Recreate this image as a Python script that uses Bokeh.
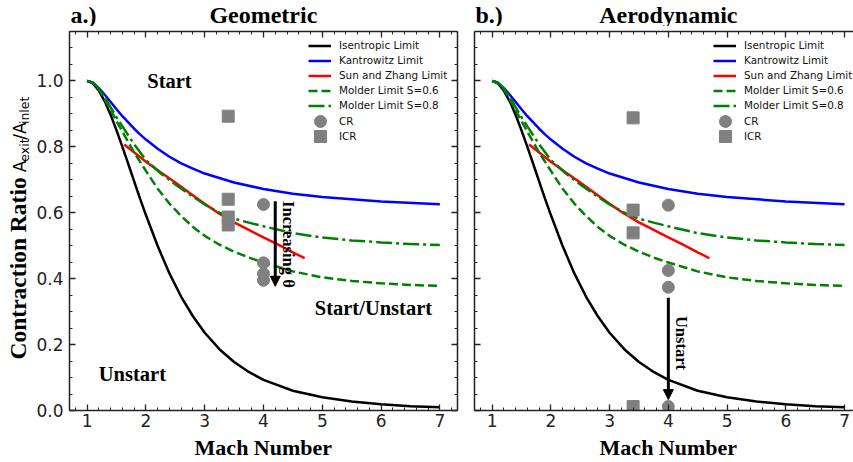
import math
from bokeh.plotting import figure
from bokeh.models import (Range1d, LinearAxis, SingleIntervalTicker, Label, Arrow,
                          NormalHead, Legend, LegendItem, PrintfTickFormatter,
                          CustomJSTickFormatter)
from bokeh.layouts import row, column
from bokeh.embed import file_html
from bokeh.resources import INLINE

# ---------------- data ----------------
isen_m = [1.0, 1.05, 1.1, 1.2, 1.3, 1.4, 1.5, 1.6, 1.7, 1.8, 1.9, 2.0, 2.2, 2.4, 2.6, 2.8,
          3.0, 3.25, 3.5, 3.75, 4.0, 4.5, 5.0, 5.5, 6.0, 6.5, 7.0]
isen_y = [1.000, 0.998, 0.992, 0.970, 0.938, 0.897, 0.850, 0.800, 0.748, 0.695, 0.643, 0.593,
          0.499, 0.416, 0.345, 0.286, 0.236, 0.186, 0.147, 0.117, 0.093, 0.060, 0.040, 0.027,
          0.019, 0.013, 0.010]

kant_m = [1.0, 1.1, 1.2, 1.3, 1.4, 1.5, 1.6, 1.7, 1.8, 1.9, 2.0, 2.2, 2.4, 2.6, 2.8, 3.0,
          3.5, 4.0, 4.5, 5.0, 6.0, 7.0]
kant_y = [1.000, 0.993, 0.978, 0.958, 0.936, 0.914, 0.893, 0.874, 0.855, 0.838, 0.822, 0.794,
          0.770, 0.750, 0.734, 0.719, 0.692, 0.672, 0.658, 0.648, 0.634, 0.626]

sun_m = [1.63, 2.0, 2.25, 2.5, 2.75, 3.0, 3.25, 3.5, 3.75, 4.0, 4.25, 4.5, 4.7]
sun_y = [0.807, 0.755, 0.723, 0.692, 0.659, 0.627, 0.597, 0.571, 0.548, 0.525, 0.503, 0.480, 0.462]

mold6_m = [1.0, 1.1, 1.2, 1.3, 1.4, 1.5, 1.6, 1.8, 2.0, 2.2, 2.4, 2.6, 2.8, 3.0, 3.25, 3.5,
           3.75, 4.0, 4.5, 5.0, 5.5, 6.0, 6.5, 7.0]
mold6_y = [1.000, 0.995, 0.975, 0.945, 0.912, 0.878, 0.846, 0.783, 0.727, 0.673, 0.628, 0.590,
           0.557, 0.530, 0.503, 0.482, 0.464, 0.449, 0.422, 0.404, 0.393, 0.386, 0.381, 0.378]

mold8_m = [1.0, 1.1, 1.2, 1.3, 1.4, 1.5, 1.6, 1.8, 2.0, 2.25, 2.5, 2.75, 3.0, 3.25, 3.5, 3.75,
           4.0, 4.5, 5.0, 5.5, 6.0, 6.5, 7.0]
mold8_y = [1.000, 0.995, 0.978, 0.950, 0.920, 0.890, 0.862, 0.808, 0.760, 0.720, 0.686, 0.655,
           0.625, 0.600, 0.582, 0.570, 0.559, 0.538, 0.525, 0.516, 0.510, 0.505, 0.502]

geo_cr_m = [4.0, 4.0, 4.0, 4.0]
geo_cr_y = [0.625, 0.448, 0.415, 0.395]
geo_icr_m = [3.4, 3.4, 3.4, 3.4]
geo_icr_y = [0.893, 0.641, 0.587, 0.563]

aero_cr_m = [4.0, 4.0, 4.0, 4.0]
aero_cr_y = [0.623, 0.425, 0.374, 0.012]
aero_icr_m = [3.4, 3.4, 3.4, 3.4]
aero_icr_y = [0.888, 0.608, 0.539, 0.012]

line_labels = ["Isentropic Limit", "Kantrowitz Limit", "Sun and Zhang Limit",
               "Molder Limit S=0.6", "Molder Limit S=0.8"]
marker_labels = ["CR", "ICR"]

# ---------------- layout constants (page pixels) ----------------
SERIF = "Liberation Serif"
SANS = "DejaVu Sans"
PAGE_W, PAGE_H = 853, 462
TOP_H = 26          # title strip
BOT_H = 28          # x-title strip
MID_H = PAGE_H - TOP_H - BOT_H
FRAME_TOP, FRAME_BOT = 31, 410
YSTRIP_W = 32
X0 = 0.7
Y0, Y1 = 0.0, 1.15
SX = 58.74


def blank_fig(w, h, x0, x1, y0, y1):
    f = figure(width=w, height=h, x_range=Range1d(x0, x1), y_range=Range1d(y0, y1),
               output_backend="svg", toolbar_location=None, x_axis_type=None,
               y_axis_type=None, min_border=0)
    f.min_border_left = f.min_border_right = f.min_border_top = f.min_border_bottom = 0
    f.outline_line_color = None
    return f


def style_axis(ax, labels):
    ax.axis_line_color = "#222222"
    ax.axis_line_width = 1.5
    ax.major_tick_line_color = "#222222"
    ax.major_tick_line_width = 1.3
    ax.minor_tick_line_color = "#222222"
    ax.minor_tick_line_width = 1
    ax.major_tick_in = 6
    ax.major_tick_out = 0
    ax.minor_tick_in = 3
    ax.minor_tick_out = 0
    if labels:
        ax.major_label_text_font = SANS
        ax.major_label_text_font_size = "17px"
        ax.major_label_text_color = "#222222"
    else:
        ax.formatter = CustomJSTickFormatter(code="return ''")
        ax.major_label_standoff = 0


def make_panel(width, left, right, x_end, cr_m, cr_y, icr_m, icr_y, right_axis, ylabels):
    p = figure(width=width, height=MID_H, x_range=Range1d(X0, x_end),
               y_range=Range1d(Y0, Y1), output_backend="svg", toolbar_location=None,
               x_axis_type=None, y_axis_type=None,
               min_border_left=left, min_border_right=right,
               min_border_top=FRAME_TOP - TOP_H,
               min_border_bottom=(PAGE_H - BOT_H) - FRAME_BOT)
    p.outline_line_color = None

    xb = LinearAxis(ticker=SingleIntervalTicker(interval=1, num_minor_ticks=5))
    style_axis(xb, True)
    xb.major_label_standoff = 3
    p.add_layout(xb, "below")
    xt = LinearAxis(ticker=SingleIntervalTicker(interval=1, num_minor_ticks=5))
    style_axis(xt, False)
    p.add_layout(xt, "above")
    yl = LinearAxis(ticker=SingleIntervalTicker(interval=0.2, num_minor_ticks=4))
    style_axis(yl, ylabels)
    if ylabels:
        yl.formatter = PrintfTickFormatter(format="%.1f")
        yl.major_label_standoff = 6
    p.add_layout(yl, "left")
    if right_axis:
        yr = LinearAxis(ticker=SingleIntervalTicker(interval=0.2, num_minor_ticks=4))
        style_axis(yr, False)
        p.add_layout(yr, "right")

    lw = 2.5
    r1 = p.line(isen_m, isen_y, line_color="black", line_width=lw)
    r2 = p.line(kant_m, kant_y, line_color="#0000ff", line_width=lw)
    r3 = p.line(sun_m, sun_y, line_color="#ff0000", line_width=lw)
    r4 = p.line(mold6_m, mold6_y, line_color="#008000", line_width=lw, line_dash="9 4")
    r5 = p.line(mold8_m, mold8_y, line_color="#008000", line_width=lw, line_dash="16 4 3 4")
    r6 = p.scatter(cr_m, cr_y, marker="circle", size=12, fill_color="#808080",
                   line_color="#808080")
    r7 = p.scatter(icr_m, icr_y, marker="square", size=12, fill_color="#808080",
                   line_color="#808080")

    fh = FRAME_BOT - FRAME_TOP
    common = dict(padding=0, margin=0, label_text_font=SANS, label_text_font_size="10.4px",
                  label_text_color="#111111", border_line_color=None,
                  background_fill_alpha=0, spacing=0)
    # line entries: first row centred at page y = 45, 15 px pitch
    leg_lines = Legend(items=[LegendItem(label=l, renderers=[r])
                              for l, r in zip(line_labels, [r1, r2, r3, r4, r5])],
                       location=(239, fh - (45 - FRAME_TOP - 7.5) - 75),
                       glyph_width=23, glyph_height=15, label_height=15, label_standoff=8,
                       **common)
    p.add_layout(leg_lines)
    # marker entries (own legends so that the marker keys get a usable size)
    for lab, r, cy in zip(marker_labels, [r6, r7], [121.3, 136.0]):
        lg = Legend(items=[LegendItem(label=lab, renderers=[r])],
                    location=(236, fh - (cy - FRAME_TOP + 15)),
                    glyph_width=30, glyph_height=30, label_height=30, label_standoff=4,
                    **common)
        p.add_layout(lg)
    return p


def add_text(f, x, y, text, font, size, bold=False, align="center", angle=0.0,
             baseline="middle"):
    f.add_layout(Label(x=x, y=y, text=text, text_font=font, text_font_size=size,
                       text_font_style="bold" if bold else "normal", text_align=align,
                       text_baseline=baseline, angle=angle, text_color="black"))


FA_LEFT, FA_RIGHT = 69, 457
FB_LEFT = 474
WA = FA_RIGHT + 9 - YSTRIP_W
WB = PAGE_W - YSTRIP_W - WA
pa = make_panel(WA, FA_LEFT - YSTRIP_W, 9, 7.3, geo_cr_m, geo_cr_y,
                geo_icr_m, geo_icr_y, True, True)
pb = make_panel(WB, FB_LEFT - (YSTRIP_W + WA), 0, X0 + (PAGE_W - FB_LEFT) / SX,
                aero_cr_m, aero_cr_y, aero_icr_m, aero_icr_y, False, False)

# ---- title strip (coordinates = page pixels) ----
top = blank_fig(PAGE_W, TOP_H, 0, PAGE_W, TOP_H, 0)
add_text(top, 70, 14, "a.)", SERIF, "24px", True, "left")
add_text(top, FA_LEFT + (4.0 - X0) * SX, 14, "Geometric", SERIF, "24px", True)
add_text(top, 475, 14, "b.)", SERIF, "24px", True, "left")
add_text(top, FB_LEFT + (4.0 - X0) * SX, 14, "Aerodynamic", SERIF, "24px", True)

# ---- x-title strip ----
bot = blank_fig(PAGE_W, BOT_H, 0, PAGE_W, PAGE_H, PAGE_H - BOT_H)
add_text(bot, FA_LEFT + (4.0 - X0) * SX, 447, "Mach Number", SERIF, "22px", True)
add_text(bot, FB_LEFT + (4.0 - X0) * SX, 447, "Mach Number", SERIF, "22px", True)

# ---- y-title strip (mixed fonts, rotated; pieces centred on their spans) ----
ys = blank_fig(YSTRIP_W, MID_H, 0, YSTRIP_W, PAGE_H - BOT_H, TOP_H)
up = math.pi / 2
add_text(ys, 17.5, 281.0, "Contraction Ratio", SERIF, "23.5px", True, "center", up)
add_text(ys, 19.0, 171.2, "A", SANS, "17px", False, "center", up)
add_text(ys, 23.7, 153.6, "exit", SANS, "12.5px", False, "center", up)
add_text(ys, 19.0, 133.2, "/A", SANS, "17px", False, "center", up)
add_text(ys, 23.7, 110.9, "inlet", SANS, "12.5px", False, "center", up)

# ---- in-plot annotations ----
add_text(pa, 2.40, 1.0, "Start", SERIF, "20.5px", True)
add_text(pa, 5.87, 0.311, "Start/Unstart", SERIF, "20.5px", True)
add_text(pa, 1.77, 0.112, "Unstart", SERIF, "20.5px", True)

pa.add_layout(Arrow(end=NormalHead(size=10, fill_color="black", line_color="black"),
                    x_start=4.2, y_start=0.635, x_end=4.2, y_end=0.377,
                    line_width=3, line_color="black"))
add_text(pa, 4.43, 0.504, "Increasing θ", SERIF, "16.5px", True, "center", -up)

pb.add_layout(Arrow(end=NormalHead(size=10, fill_color="black", line_color="black"),
                    x_start=4.0, y_start=0.342, x_end=4.0, y_end=0.033,
                    line_width=3, line_color="black"))
add_text(pb, 4.22, 0.205, "Unstart", SERIF, "16.5px", True, "center", -up)

layout = column(top, row(ys, pa, pb), bot)
open("out.html", "w").write(file_html(layout, INLINE))
